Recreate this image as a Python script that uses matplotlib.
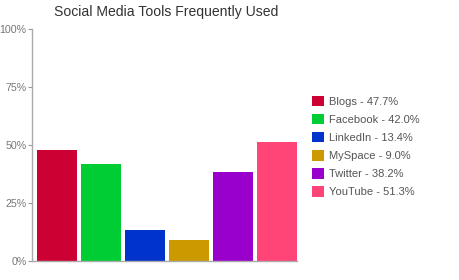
import matplotlib
matplotlib.use("Agg")
import matplotlib.pyplot as plt

TITLE = "Social Media Tools Frequently Used"
TOOLS = ["Blogs", "Facebook", "LinkedIn", "MySpace", "Twitter", "YouTube"]
PERCENT = [47.7, 42.0, 13.4, 9.0, 38.2, 51.3]
COLORS = ["#CC0033", "#00CC33", "#0033CC", "#CC9900", "#9900CC", "#FF4477"]
Y_TICKS = [0, 25, 50, 75, 100]

plt.rcParams["font.family"] = ["Liberation Sans", "DejaVu Sans"]

fig = plt.figure(figsize=(4.6, 2.8), dpi=100)
ax = fig.add_axes([32 / 460, 19 / 280, 265 / 460, 232 / 280])

x = list(range(len(TOOLS)))
bars = ax.bar(x, PERCENT, width=40 / 44, color=COLORS, linewidth=0)

ax.set_xlim(-25 / 44, 5 + 20 / 44)
ax.set_ylim(0, 100)
ax.set_yticks(Y_TICKS)
ax.set_yticklabels([f"{t}%" for t in Y_TICKS])
ax.set_xticks([])
ax.tick_params(axis="y", length=3, width=0.8, color="#999999",
               labelcolor="#777777", labelsize=7.7, pad=1)
for side in ("top", "right"):
    ax.spines[side].set_visible(False)
for side in ("left", "bottom"):
    ax.spines[side].set_color("#aaaaaa")
    ax.spines[side].set_linewidth(1)

fig.text(166 / 460, 1 - 12 / 280, TITLE, ha="center", va="center",
         fontsize=10.1, color="#333333")

labels = [f"{t} - {v:.1f}%" for t, v in zip(TOOLS, PERCENT)]
fig.legend(bars, labels, loc="upper left",
           bbox_to_anchor=(306 / 460, 1 - 90 / 280),
           frameon=False, fontsize=8, handlelength=1.1, handleheight=1.1,
           handletextpad=0.5, labelspacing=0.63, borderpad=0,
           labelcolor="#555555")

fig.savefig("out.png", dpi=100)
